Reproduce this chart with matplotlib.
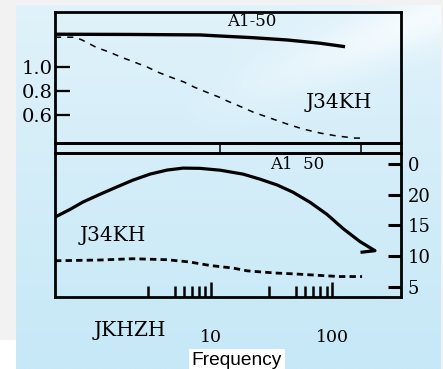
import numpy as np
import matplotlib
matplotlib.use("Agg")
import matplotlib.pyplot as plt
from matplotlib.patches import Rectangle

# top panel (ratio scale), frequency on a log axis
top_freq_solid = [0.514, 2.14, 8.1, 11.9, 22.2, 42.5, 79.6, 128]
top_solid = [1.273, 1.271, 1.267, 1.258, 1.244, 1.225, 1.198, 1.169]
top_freq_dash = [0.514, 0.752, 0.859, 1.14, 1.44, 1.80, 2.31, 2.96, 3.72, 4.85, 5.98,
                 7.24, 9.09, 11.6, 13.6, 16.4, 22.2, 30.7, 42.5, 57.6, 79.6, 110, 155, 177]
top_dash = [1.248, 1.248, 1.225, 1.161, 1.125, 1.083, 1.042, 1.0, 0.953, 0.908, 0.875,
            0.833, 0.792, 0.75, 0.717, 0.683, 0.625, 0.575, 0.525, 0.483, 0.45, 0.425, 0.408, 0.408]
top_ticks = [1.0, 0.8, 0.6]
top_ticklabels = ["1.0", "0.8", "0.6"]

# lower panel
low_freq_solid = [0.514, 0.684, 0.875, 1.21, 1.67, 2.26, 3.13, 4.33, 5.87, 8.11, 11.9,
                  18.4, 25.4, 35.1, 47.6, 65.8, 90.9, 123, 170, 226, 177]
low_solid = [16.36, 17.62, 18.82, 20.08, 21.28, 22.38, 23.36, 24.02, 24.34, 24.3, 24.0,
             23.36, 22.54, 21.6, 20.41, 18.77, 16.8, 14.51, 12.38, 10.9, 10.66]
low_freq_dash = [0.514, 1.21, 2.26, 4.33, 6.7, 9.8, 15.2, 19.9, 26.9, 35.1, 47.6,
                 65.8, 90.9, 116, 177]
low_dash = [9.26, 9.38, 9.59, 9.43, 9.05, 8.49, 8.07, 7.62, 7.41, 7.25, 7.13,
            6.97, 6.8, 6.69, 6.69]
right_ticks = [25, 20, 15, 10, 5]
right_ticklabels = ["0", "20", "15", "10", "5"]

major_freqs = [10, 100]
major_labels = ["10", "100"]
minor_freqs = [3, 5, 6, 7, 8, 9, 30, 50, 60, 70, 80, 90]
strip_marks = [11.9, 173]

xlim = (0.514, 371)
W, H = 443, 369
serif = "DejaVu Serif"

fig = plt.figure(figsize=(W / 100, H / 100), dpi=100, facecolor="#f2f2f2")

# light blue backdrop with a soft pale streak at the top right
bg = fig.add_axes([16 / W, 0, 1 - 16 / W - 2 / W, 1 - 5 / H])
bg.set_axis_off()
yy, xx = np.mgrid[0:1:300j, 0:1:300j]
r = 224 - 26 * yy
g = 242 - 10 * yy
b = 250 - 3 * yy
band = np.exp(-((yy - 0.45 * (1 - xx) - 0.02) / 0.08) ** 2) * np.clip((xx - 0.4) / 0.5, 0, 1)
r = r + 22 * band
g = g + 9 * band
b = b + 4 * band
img = np.dstack([r, g, b]) / 255.0
bg.imshow(np.clip(img, 0, 1), aspect="auto", extent=[0, 1, 0, 1], origin="upper")
fig.patches.append(Rectangle((0, 0), 16 / W, 29 / H, transform=fig.transFigure,
                             facecolor="white", edgecolor="none", zorder=0.5))

left = 55 / W
width = 346 / W
ax_top = fig.add_axes([left, 1 - 143 / H, width, 131 / H])
ax_strip = fig.add_axes([left, 1 - 153 / H, width, 10 / H])
ax_low = fig.add_axes([left, 1 - 297 / H, width, 144 / H])

for ax in (ax_top, ax_strip, ax_low):
    ax.set_facecolor("none")
    ax.set_xscale("log")
    ax.set_xlim(*xlim)
    for s in ax.spines.values():
        s.set_linewidth(2.0)
        s.set_color("black")

# top panel
ax_top.plot(top_freq_solid, top_solid, color="black", lw=2.4, solid_capstyle="butt")
ax_top.plot(top_freq_dash, top_dash, color="black", lw=1.1, linestyle=(0, (4, 4)))
ax_top.set_ylim(0.367, 1.458)
ax_top.set_yticks(top_ticks)
ax_top.set_yticklabels(top_ticklabels, fontfamily=serif, fontsize=14)
ax_top.tick_params(axis="y", direction="in", length=11, width=1.6, pad=1.5)
ax_top.tick_params(axis="x", which="both", bottom=False, labelbottom=False)
ax_top.text(0.57, 0.93, "A1-50", transform=ax_top.transAxes, ha="center", va="center",
            fontfamily=serif, fontsize=12)
ax_top.text(0.82, 0.31, "J34KH", transform=ax_top.transAxes, ha="center", va="center",
            fontfamily=serif, fontsize=14.5)

# thin strip between panels
ax_strip.set_ylim(0, 1)
ax_strip.set_xticks([])
ax_strip.set_xticks([], minor=True)
ax_strip.set_yticks([])
ax_strip.vlines(strip_marks, 0, 1, color="black", lw=1.1)

# lower panel
ax_low.plot(low_freq_solid, low_solid, color="black", lw=2.3)
ax_low.plot(low_freq_dash, low_dash, color="black", lw=2.0, linestyle=(0, (2.3, 1.5)))
ax_low.set_ylim(3.36, 26.8)
ax_low.yaxis.tick_right()
ax_low.set_yticks(right_ticks)
ax_low.set_yticklabels(right_ticklabels, fontfamily=serif, fontsize=13)
ax_low.tick_params(axis="y", direction="in", length=9.5, width=2.2, pad=5)
ax_low.set_xticks(major_freqs)
ax_low.set_xticklabels(major_labels, fontfamily=serif, fontsize=12.5)
ax_low.set_xticks(minor_freqs, minor=True)
ax_low.set_xticklabels([], minor=True)
ax_low.tick_params(axis="x", which="major", direction="in", length=11, width=1.8, pad=23)
ax_low.tick_params(axis="x", which="minor", direction="in", length=8, width=1.8)
ax_low.text(0.70, 0.92, "A1  50", transform=ax_low.transAxes, ha="center", va="center",
            fontfamily=serif, fontsize=12)
ax_low.text(0.07, 0.43, "J34KH", transform=ax_low.transAxes, ha="left", va="center",
            fontfamily=serif, fontsize=14.5)
ax_low.text(0.215, -0.235, "JKHZH", transform=ax_low.transAxes, ha="center", va="center",
            fontfamily=serif, fontsize=14.5)

fig.text(237 / W, 1 - 365 / H, "Frequency", ha="center", va="baseline",
         fontfamily="Liberation Sans", fontsize=13.8,
         bbox=dict(boxstyle="square,pad=0.15", facecolor="white", edgecolor="none"))

fig.savefig("out.png", dpi=100, facecolor=fig.get_facecolor())
